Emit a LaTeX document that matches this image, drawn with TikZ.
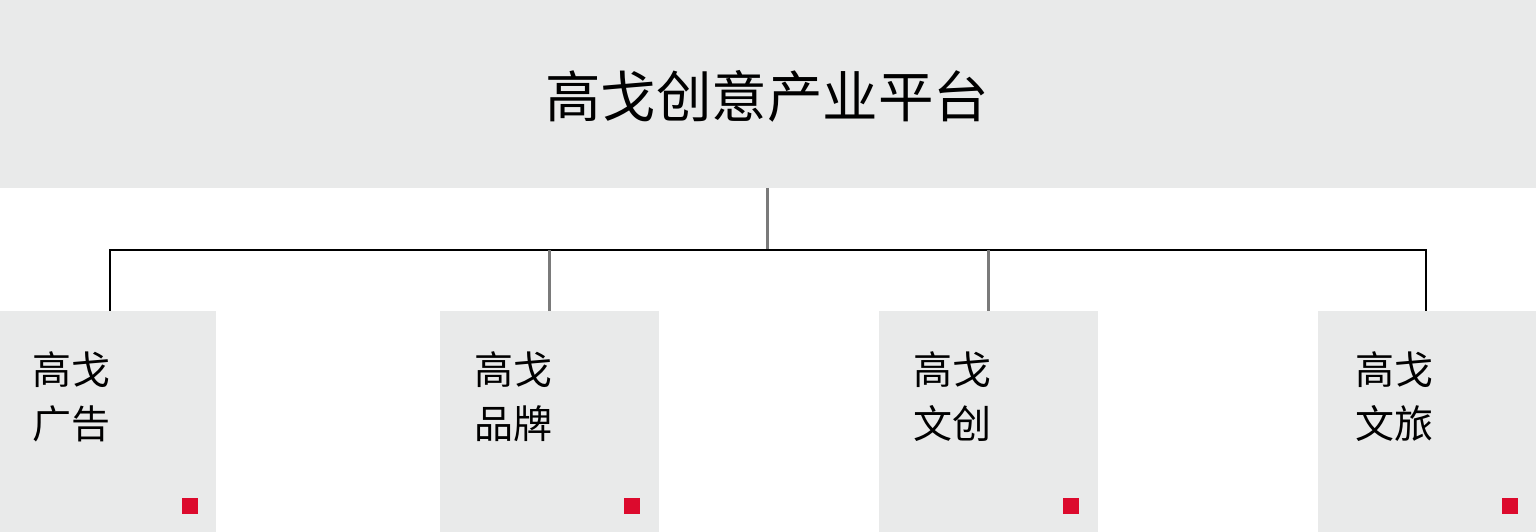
\documentclass[tikz,border=0pt]{standalone}
\usepackage{fontspec}
\newfontfamily\cjk{Noto Sans CJK SC}
\definecolor{panel}{HTML}{E9EAEA}
\definecolor{mark}{HTML}{DC0A2D}
\definecolor{linegray}{HTML}{7A7A7A}
\begin{document}
\begin{tikzpicture}[x=1pt,y=1pt,
  panelbox/.style={fill=panel, draw=none, minimum width=219pt, minimum height=221pt, anchor=north west, inner sep=0pt},
  boxtext/.style={font=\cjk\fontsize{39}{54}\selectfont, align=left, anchor=north west, inner sep=0pt, text=black},
  redmark/.style={fill=mark, draw=none, minimum size=16pt, inner sep=0pt, anchor=south east},
  blackline/.style={draw=black, line width=2pt},
  grayline/.style={draw=linegray, line width=3pt}]
\useasboundingbox (0,0) rectangle (1536,532);
% top band
\node[fill=panel, minimum width=1536pt, minimum height=188pt, inner sep=0pt, anchor=north west] (top) at (0,532) {};
\node[font=\cjk\fontsize{55.5}{60}\selectfont] (title) at (767,436) {高戈创意产业平台};
% connectors
\coordinate (hub) at (767,282);
\coordinate (jl) at (110,282);
\coordinate (jr) at (1426,282);
\coordinate (j2) at (549,282);
\coordinate (j3) at (988,282);
% boxes
\node[panelbox, minimum width=216pt] (b1) at (0,221) {};
\node[panelbox] (b2) at (440,221) {};
\node[panelbox] (b3) at (879,221) {};
\node[panelbox, minimum width=218pt] (b4) at (1318,221) {};
\draw[grayline] (767,344) -- (hub);
\draw[blackline] (jl |- b1.north) -- (jl) -- (jr) -- (jr |- b4.north);
\draw[grayline] (j2) -- (j2 |- b2.north);
\draw[grayline] (j3) -- (j3 |- b3.north);
% texts
\node[boxtext] (t1) at ([xshift=32pt,yshift=-40pt]b1.north west) {高戈\\广告};
\node[boxtext] (t2) at ([xshift=34pt,yshift=-40pt]b2.north west) {高戈\\品牌};
\node[boxtext] (t3) at ([xshift=34pt,yshift=-40pt]b3.north west) {高戈\\文创};
\node[boxtext] (t4) at ([xshift=37pt,yshift=-40pt]b4.north west) {高戈\\文旅};
% red marks
\node[redmark] (m1) at ([xshift=-18pt,yshift=18pt]b1.south east) {};
\node[redmark] (m2) at ([xshift=-19pt,yshift=18pt]b2.south east) {};
\node[redmark] (m3) at ([xshift=-19pt,yshift=18pt]b3.south east) {};
\node[redmark] (m4) at ([xshift=-18pt,yshift=18pt]b4.south east) {};
\end{tikzpicture}
\end{document}
